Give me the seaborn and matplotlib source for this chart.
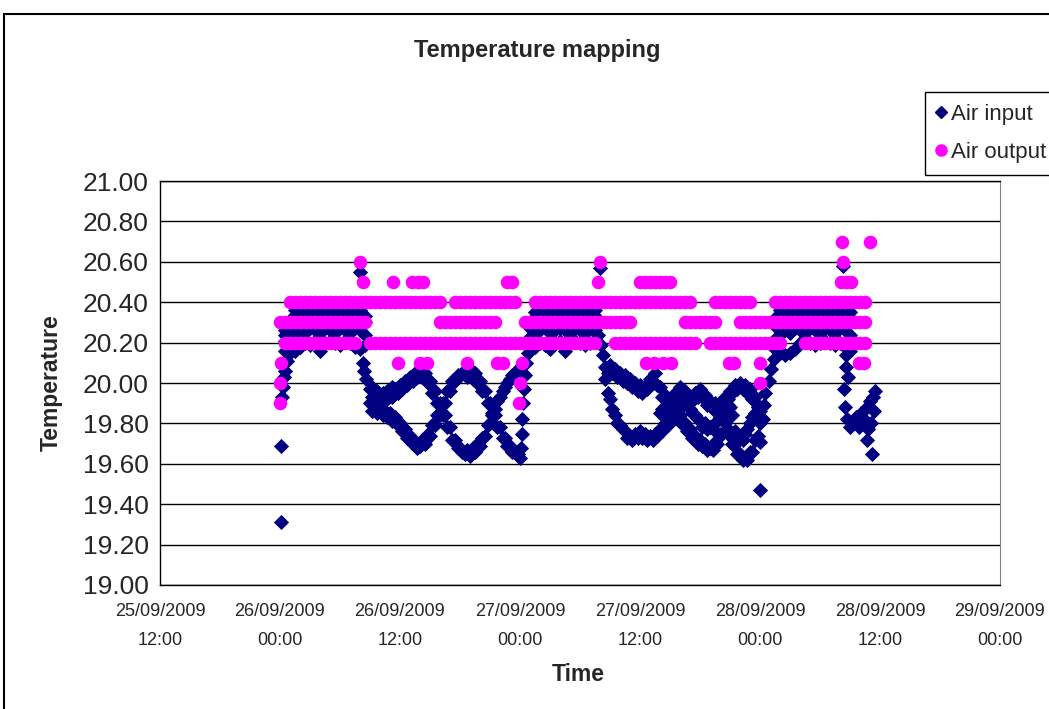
import numpy as np
import pandas as pd
import matplotlib
matplotlib.use('Agg')
import matplotlib.pyplot as plt
import matplotlib.dates as mdates
from matplotlib.ticker import FormatStrFormatter
from matplotlib.patches import Rectangle
from matplotlib.lines import Line2D
import seaborn as sns

# Horas contadas a partir de 26/09/2009 00:00
inicio = pd.Timestamp('2009-09-26 00:00')

# ---------------- Air input ----------------
# primeiras leituras
ini_hours = [0.1, 0.1, 0.2, 0.3, 0.4, 0.5, 0.7, 0.9, 1.4, 2.0]
ini_temps = [19.31, 19.69, 19.93, 19.98, 20.03, 20.06, 20.11, 20.16, 20.17, 20.18]

# periodos estaveis (faixa 20.2 - 20.4), quatro leituras por meia hora
band1_hours = [0.5, 1.0, 1.5, 2.0, 2.5, 3.0, 3.5, 4.0, 4.5, 5.0, 5.5, 6.0, 6.5, 7.0, 7.5, 8.0, 8.5]
band1_a = [20.16, 20.15, 20.16, 20.18, 20.20, 20.19, 20.21, 20.16, 20.20, 20.21, 20.20, 20.19, 20.21, 20.20, 20.18, 20.17, 20.19]
band1_b = [20.21, 20.23, 20.25, 20.26, 20.25, 20.27, 20.26, 20.25, 20.27, 20.26, 20.25, 20.27, 20.26, 20.25, 20.27, 20.26, 20.24]
band1_c = [20.24, 20.29, 20.32, 20.34, 20.33, 20.35, 20.34, 20.33, 20.34, 20.35, 20.33, 20.34, 20.34, 20.33, 20.34, 20.33, 20.30]
band1_d = [20.26, 20.31, 20.36, 20.38, 20.37, 20.38, 20.37, 20.38, 20.37, 20.38, 20.37, 20.38, 20.37, 20.38, 20.37, 20.36, 20.33]

band2_hours = [25.0, 25.5, 26.0, 26.5, 27.0, 27.5, 28.0, 28.5, 29.0, 29.5, 30.0, 30.5, 31.0, 31.5]
band2_a = [20.17, 20.18, 20.20, 20.19, 20.17, 20.20, 20.21, 20.16, 20.20, 20.21, 20.20, 20.19, 20.20, 20.21]
band2_b = [20.23, 20.25, 20.26, 20.27, 20.25, 20.26, 20.27, 20.26, 20.25, 20.27, 20.26, 20.25, 20.27, 20.26]
band2_c = [20.27, 20.31, 20.33, 20.34, 20.33, 20.35, 20.34, 20.33, 20.34, 20.35, 20.33, 20.34, 20.34, 20.33]
band2_d = [20.30, 20.35, 20.37, 20.38, 20.37, 20.38, 20.37, 20.38, 20.37, 20.38, 20.37, 20.38, 20.37, 20.36]

band3_hours = [49.5, 50.0, 50.5, 51.0, 51.5, 52.0, 52.5, 53.0, 53.5, 54.0, 54.5, 55.0, 55.5, 56.0, 56.5, 57.0]
band3_a = [20.17, 20.15, 20.14, 20.15, 20.17, 20.20, 20.21, 20.20, 20.19, 20.20, 20.21, 20.20, 20.19, 20.20, 20.18, 20.16]
band3_b = [20.22, 20.24, 20.26, 20.25, 20.27, 20.26, 20.25, 20.27, 20.26, 20.25, 20.27, 20.26, 20.25, 20.27, 20.26, 20.24]
band3_c = [20.28, 20.31, 20.33, 20.34, 20.33, 20.35, 20.34, 20.33, 20.34, 20.35, 20.33, 20.34, 20.34, 20.33, 20.34, 20.32]
band3_d = [20.32, 20.36, 20.37, 20.38, 20.37, 20.38, 20.37, 20.38, 20.37, 20.38, 20.37, 20.38, 20.37, 20.38, 20.36, 20.35]

# transicoes entre os periodos
fall1_hours = [8.0, 8.3, 8.4, 8.6]
fall1_temps = [20.55, 20.10, 20.06, 20.02]
rise1_hours = [24.1, 24.2, 24.2, 24.3, 24.4, 24.5, 24.6, 24.8]
rise1_temps = [19.68, 19.75, 19.82, 19.90, 19.97, 20.04, 20.10, 20.15]
fall2_hours = [31.8, 32.0, 32.1, 32.3]
fall2_temps = [20.24, 20.57, 20.19, 20.14]
rise2_hours = [48.0, 48.0, 48.3, 48.4, 48.5, 48.9, 49.1, 49.4, 49.8]
rise2_temps = [19.47, 19.71, 19.82, 19.89, 19.95, 20.01, 20.07, 20.12, 20.16]
end_hours = [56.3, 56.6, 56.6, 56.8, 56.4, 56.5, 56.7, 57.0, 57.3, 57.6, 57.9,
             58.1, 58.4, 58.7, 59.0, 59.3, 59.5, 59.4, 59.1, 58.8, 58.7, 59.2]
end_temps = [20.58, 20.14, 20.08, 20.03, 19.97, 19.88, 19.82, 19.78, 19.80, 19.83, 19.78,
             19.85, 19.82, 19.88, 19.91, 19.93, 19.96, 19.86, 19.80, 19.77, 19.72, 19.65]

# oscilacao 26/09 08:00 - 27/09 00:00 (duas curvas que se cruzam)
osc1_hours = [9.0, 9.5, 10.0, 10.5, 11.0, 11.5, 12.0, 12.5, 13.0, 13.5, 14.0, 14.5, 15.0, 15.5, 16.0, 16.5,
              17.0, 17.5, 18.0, 18.5, 19.0, 19.5, 20.0, 20.5, 21.0, 21.5, 22.0, 22.5, 23.0, 23.5, 24.0]
osc1_p = [19.97, 19.95, 19.94, 19.95, 19.96, 19.97, 19.99, 20.01, 20.03, 20.05, 20.07, 20.05, 20.01, 19.96, 19.90, 19.84,
          19.78, 19.72, 19.68, 19.65, 19.64, 19.66, 19.69, 19.74, 19.80, 19.87, 19.93, 19.98, 20.02, 20.05, 20.08]
osc1_q = [19.90, 19.88, 19.87, 19.86, 19.85, 19.83, 19.80, 19.77, 19.74, 19.71, 19.69, 19.70, 19.74, 19.79, 19.84, 19.90,
          19.96, 20.01, 20.04, 20.06, 20.07, 20.05, 20.01, 19.96, 19.90, 19.84, 19.78, 19.73, 19.69, 19.66, 19.63]
osc1_mid_hours = [9.25, 9.75, 10.25, 10.75, 11.25, 11.75, 12.25, 12.75, 13.25, 13.75, 14.25, 14.75, 15.25, 15.75,
                  16.25, 16.75, 17.25, 17.75, 18.25, 18.75, 19.25, 19.75, 20.25, 20.75, 21.25, 21.75, 22.25,
                  22.75, 23.25, 23.75]
osc1_p2 = [19.93, 19.91, 19.91, 19.92, 19.93, 19.95, 19.97, 19.99, 20.01, 20.03, 20.03, 20.00, 19.95, 19.90, 19.84,
           19.78, 19.72, 19.68, 19.66, 19.67, 19.68, 19.70, 19.73, 19.79, 19.85, 19.91, 19.96, 20.00, 20.04, 20.06]
osc1_q2 = [19.86, 19.85, 19.84, 19.83, 19.81, 19.79, 19.76, 19.73, 19.70, 19.68, 19.72, 19.75, 19.79, 19.84, 19.90,
           19.96, 20.01, 20.04, 20.05, 20.03, 20.02, 20.00, 19.96, 19.90, 19.84, 19.78, 19.73, 19.69, 19.66, 19.65]
osc1_extra_hours = [9.25, 9.75, 10.25, 10.75, 11.25]
osc1_extra_temps = [19.98, 19.96, 19.95, 19.96, 19.98]

# oscilacao 27/09 08:00 - 28/09 00:00
osc2_hours = [32.5, 33.0, 33.5, 34.0, 34.5, 35.0, 35.5, 36.0, 36.5, 37.0, 37.5, 38.0, 38.5, 39.0, 39.5, 40.0,
              40.5, 41.0, 41.5, 42.0, 42.5, 43.0, 43.5, 44.0, 44.5, 45.0, 45.5, 46.0, 46.5, 47.0, 47.5, 48.0]
osc2_u = [20.08, 20.09, 20.07, 20.05, 20.04, 20.02, 20.00, 19.99, 19.98, 20.02, 20.05, 19.98, 19.94, 19.92, 19.95, 19.98,
          19.96, 19.93, 19.95, 19.97, 19.94, 19.91, 19.90, 19.90, 19.93, 19.96, 19.99, 20.00, 19.99, 19.97, 19.93, 19.88]
osc2_l = [20.02, 19.92, 19.84, 19.79, 19.76, 19.74, 19.75, 19.76, 19.75, 19.74, 19.75, 19.77, 19.80, 19.83, 19.86, 19.84,
          19.80, 19.77, 19.74, 19.72, 19.70, 19.68, 19.71, 19.75, 19.80, 19.76, 19.70, 19.65, 19.63, 19.66, 19.72, 19.80]
osc2_q_hours = [32.75, 33.25, 33.75, 34.25, 34.75, 35.25, 35.75, 36.25, 36.75, 37.25, 37.75, 38.25, 38.75, 39.25,
                39.75, 40.25, 40.75, 41.25, 41.75, 42.25, 42.75, 43.25, 43.75, 44.25, 44.75, 45.25, 45.75, 46.25,
                46.75, 47.25, 47.75]
osc2_u2 = [20.05, 20.05, 20.03, 20.01, 20.00, 19.98, 19.96, 19.95, 19.97, 20.00, 19.99, 19.93, 19.90, 19.91, 19.94,
           19.94, 19.91, 19.91, 19.93, 19.93, 19.89, 19.87, 19.87, 19.89, 19.92, 19.95, 19.97, 19.97, 19.95, 19.92, 19.88]
osc2_l2 = [19.95, 19.87, 19.80, 19.77, 19.73, 19.72, 19.73, 19.73, 19.72, 19.72, 19.74, 19.76, 19.79, 19.82, 19.82,
           19.79, 19.76, 19.73, 19.70, 19.69, 19.67, 19.67, 19.70, 19.75, 19.75, 19.70, 19.65, 19.62, 19.62, 19.66, 19.74]
osc2_mid_hours = [38.0, 38.5, 39.0, 39.5, 40.0, 40.5, 41.0, 41.5, 42.0, 42.5, 43.0, 43.5, 44.0, 44.5, 45.0,
                  45.5, 46.0, 46.5, 47.0, 47.5, 48.0]
osc2_m = [19.85, 19.88, 19.86, 19.84, 19.88, 19.90, 19.87, 19.84, 19.81, 19.80, 19.78, 19.80, 19.83, 19.86, 19.88,
          19.76, 19.74, 19.75, 19.80, 19.85, 19.86]
osc2_mid2_hours = [38.25, 38.75, 39.25, 39.75, 40.25, 40.75, 41.25, 41.75, 42.25, 42.75, 43.25, 43.75, 44.25, 44.75,
                   45.25, 45.75, 46.25, 46.75, 47.25, 47.75]
osc2_m2 = [19.87, 19.89, 19.84, 19.86, 19.91, 19.90, 19.85, 19.82, 19.78, 19.77, 19.77, 19.81, 19.86, 19.89, 19.84,
           19.73, 19.72, 19.77, 19.83, 19.88]

# ---------------- Air output (leituras em passos de 0.1) ----------------
out_hours_207 = [56.2, 59.0]
out_hours_206 = [8.0, 32.0, 56.3]
out_hours_205 = [8.3, 11.3, 13.2, 13.8, 14.3, 22.7, 23.2, 31.8, 36.0, 36.5, 37.0, 37.5, 38.0, 38.5, 39.0,
                 56.1, 56.6, 57.1]
out_hours_204 = [
    1.0, 1.5, 2.0, 2.5, 3.0, 3.5, 4.0, 4.5, 5.0, 5.5, 6.0, 6.5, 7.0, 7.5, 8.0, 8.5, 9.0, 9.5, 10.0,
    10.5, 11.0, 11.5, 12.0, 12.5, 13.0, 13.5, 14.0, 14.5, 15.0, 15.5, 16.0,
    17.5, 18.0, 18.5, 19.0, 19.5, 20.0, 20.5, 21.0, 21.5, 22.0, 22.5, 23.0, 23.5,
    25.5, 26.0, 26.5, 27.0, 27.5, 28.0, 28.5, 29.0, 29.5, 30.0, 30.5, 31.0, 31.5, 32.0, 32.5, 33.0,
    33.5, 34.0, 34.5, 35.0, 35.5, 36.0, 36.5, 37.0, 37.5, 38.0, 38.5, 39.0, 39.5, 40.0, 40.5, 41.0,
    43.5, 44.0, 44.5, 45.0, 45.5, 46.0, 46.5, 47.0,
    49.5, 50.0, 50.5, 51.0, 51.5, 52.0, 52.5, 53.0, 53.5, 54.0, 54.5, 55.0, 55.5, 56.0, 56.5, 57.0,
    57.5, 58.0, 58.5,
]
out_hours_203 = [
    0.0, 0.5, 1.0, 1.5, 2.0, 2.5, 3.0, 3.5, 4.0, 4.5, 5.0, 5.5, 6.0, 6.5, 7.0, 7.5, 8.0, 8.5,
    16.0, 16.5, 17.0, 17.5, 18.0, 18.5, 19.0, 19.5, 20.0, 20.5, 21.0, 21.5,
    24.5, 25.0, 25.5, 26.0, 26.5, 27.0, 27.5, 28.0, 28.5, 29.0, 29.5, 30.0, 30.5, 31.0, 31.5, 32.0,
    32.5, 33.0, 33.5, 34.0, 34.5, 35.0,
    40.5, 41.0, 41.5, 42.0, 42.5, 43.0, 43.5,
    46.0, 46.5, 47.0, 47.5, 48.0, 48.5, 49.0, 49.5, 50.0, 50.5, 51.0, 51.5, 52.0, 52.5, 53.0, 53.5,
    54.0, 54.5, 55.0, 55.5, 56.0, 56.5, 57.0, 57.5, 58.0, 58.5,
]
out_hours_202 = [
    0.5, 1.0, 1.5, 2.0, 2.5, 3.0, 3.5, 4.0, 4.5, 5.0, 5.5, 6.0, 6.5, 7.0, 7.5,
    9.0, 9.5, 10.0, 10.5, 11.0, 11.5, 12.0, 12.5, 13.0, 13.5, 14.0, 14.5, 15.0, 15.5, 16.0, 16.5,
    17.0, 17.5, 18.0, 18.5, 19.0, 19.5, 20.0, 20.5, 21.0, 21.5, 22.0, 22.5, 23.0, 23.5, 24.0, 24.5,
    25.0, 25.5, 26.0, 26.5, 27.0, 27.5, 28.0, 28.5, 29.0, 29.5, 30.0, 30.5, 31.0, 31.5,
    33.5, 34.0, 34.5, 35.0, 35.5, 36.0, 36.5, 37.0, 37.5, 38.0, 38.5, 39.0, 39.5, 40.0, 40.5, 41.0, 41.5,
    43.0, 43.5, 44.0, 44.5, 45.0, 45.5, 46.0, 46.5, 47.0, 47.5, 48.0, 48.5, 49.0, 49.5, 50.0,
    52.5, 53.0, 53.5, 54.0, 54.5, 55.0, 55.5, 56.0, 56.5, 57.0, 57.5, 58.0, 58.5,
]
out_hours_201 = [0.1, 11.8, 14.0, 14.7, 18.7, 21.7, 22.3, 24.2, 36.6, 37.4, 38.3, 39.1, 44.9, 45.4, 48.0,
                 57.9, 58.4]
out_hours_200 = [0.0, 24.0, 48.0]
out_hours_199 = [0.0, 23.9]

x_ticks_start = '2009-09-25 12:00'
x_ticks_end = '2009-09-29 00:00'


def monta_df(horas, temps):
    return pd.DataFrame({'Time': inicio + pd.to_timedelta(np.asarray(horas, dtype=float), unit='h'),
                         'Temperature': np.asarray(temps, dtype=float)})


partes_in = [
    (ini_hours, ini_temps),
    (band1_hours, band1_a), (band1_hours, band1_b), (band1_hours, band1_c), (band1_hours, band1_d),
    (band2_hours, band2_a), (band2_hours, band2_b), (band2_hours, band2_c), (band2_hours, band2_d),
    (band3_hours, band3_a), (band3_hours, band3_b), (band3_hours, band3_c), (band3_hours, band3_d),
    (fall1_hours, fall1_temps), (rise1_hours, rise1_temps),
    (fall2_hours, fall2_temps), (rise2_hours, rise2_temps), (end_hours, end_temps),
    (osc1_hours, osc1_p), (osc1_hours, osc1_q), (osc1_mid_hours, osc1_p2), (osc1_mid_hours, osc1_q2),
    (osc1_extra_hours, osc1_extra_temps),
    (osc2_hours, osc2_u), (osc2_hours, osc2_l), (osc2_q_hours, osc2_u2), (osc2_q_hours, osc2_l2),
    (osc2_mid_hours, osc2_m), (osc2_mid2_hours, osc2_m2),
]
df_in = pd.concat([monta_df(h, t) for h, t in partes_in], ignore_index=True)

partes_out = [
    (out_hours_207, 20.7), (out_hours_206, 20.6), (out_hours_205, 20.5), (out_hours_204, 20.4),
    (out_hours_203, 20.3), (out_hours_202, 20.2), (out_hours_201, 20.1), (out_hours_200, 20.0),
    (out_hours_199, 19.9),
]
df_out = pd.concat([monta_df(h, [v] * len(h)) for h, v in partes_out], ignore_index=True)

# ---------------- Plot ----------------
sns.set_style('white')
plt.rcParams['font.family'] = ['Liberation Sans', 'DejaVu Sans']

fig = plt.figure(figsize=(10.49, 7.09), dpi=100)
ax = fig.add_axes([160 / 1049, 1 - 585 / 709, 840 / 1049, 404 / 709])

sns.scatterplot(data=df_in, x='Time', y='Temperature', marker='D', color='#000080',
                s=60, linewidth=0, ax=ax, zorder=3)
sns.scatterplot(data=df_out, x='Time', y='Temperature', marker='o', color='#FF00FF',
                s=95, linewidth=0, ax=ax, zorder=4)

ax.set_xlim(mdates.date2num(pd.Timestamp(x_ticks_start).to_pydatetime()),
            mdates.date2num(pd.Timestamp(x_ticks_end).to_pydatetime()))
ax.set_ylim(19.0, 21.0)
ax.set_yticks(np.arange(19.0, 21.01, 0.2))
ax.yaxis.set_major_formatter(FormatStrFormatter('%.2f'))
ax.xaxis.set_major_locator(mdates.HourLocator(byhour=[0, 12]))
ax.xaxis.set_major_formatter(mdates.DateFormatter('%d/%m/%Y\n%H:%M'))

ax.grid(axis='y', color='black', linewidth=1.0)
ax.grid(axis='x', visible=False)
ax.set_axisbelow(True)

ax.tick_params(axis='x', direction='out', length=6, width=1, color='black', labelsize=13, pad=7)
ax.tick_params(axis='y', direction='out', length=6, width=1, color='black', labelsize=19, pad=2)

for lado in ['left', 'bottom', 'top']:
    ax.spines[lado].set_color('black')
    ax.spines[lado].set_linewidth(1.0)
ax.spines['right'].set_color('#808080')

ax.set_xlabel('Time', fontsize=16.5, fontweight='bold')
ax.xaxis.set_label_coords(0.4976, -0.193)
ax.set_ylabel('Temperature', fontsize=16.5, fontweight='bold')
ax.yaxis.set_label_coords(-0.116, 0.5)

fig.text(537 / 1049, 1 - 51 / 709, 'Temperature mapping', ha='center', va='center',
         fontsize=17, fontweight='bold')

handles = [Line2D([], [], marker='D', color='#000080', linestyle='none', markersize=6.5),
           Line2D([], [], marker='o', color='#FF00FF', linestyle='none', markersize=8)]
leg = fig.legend(handles, ['Air input', 'Air output'], loc='upper left',
                 bbox_to_anchor=(925 / 1049, 1 - 92 / 709), frameon=True, fancybox=False,
                 edgecolor='black', fontsize=16, handlelength=0.3, handletextpad=0.3,
                 borderpad=0.55, labelspacing=0.75, borderaxespad=0, framealpha=1)
leg.get_frame().set_linewidth(1.0)

# moldura externa do grafico
fig.patches.append(Rectangle((4 / 1049, -0.1), 2, 0.1 + 1 - 14 / 709, transform=fig.transFigure,
                             fill=False, edgecolor='black', linewidth=1.5))

fig.canvas.draw()
for rotulo in ax.get_xticklabels():
    rotulo.set_linespacing(1.95)

fig.savefig('out.png', dpi=100)
